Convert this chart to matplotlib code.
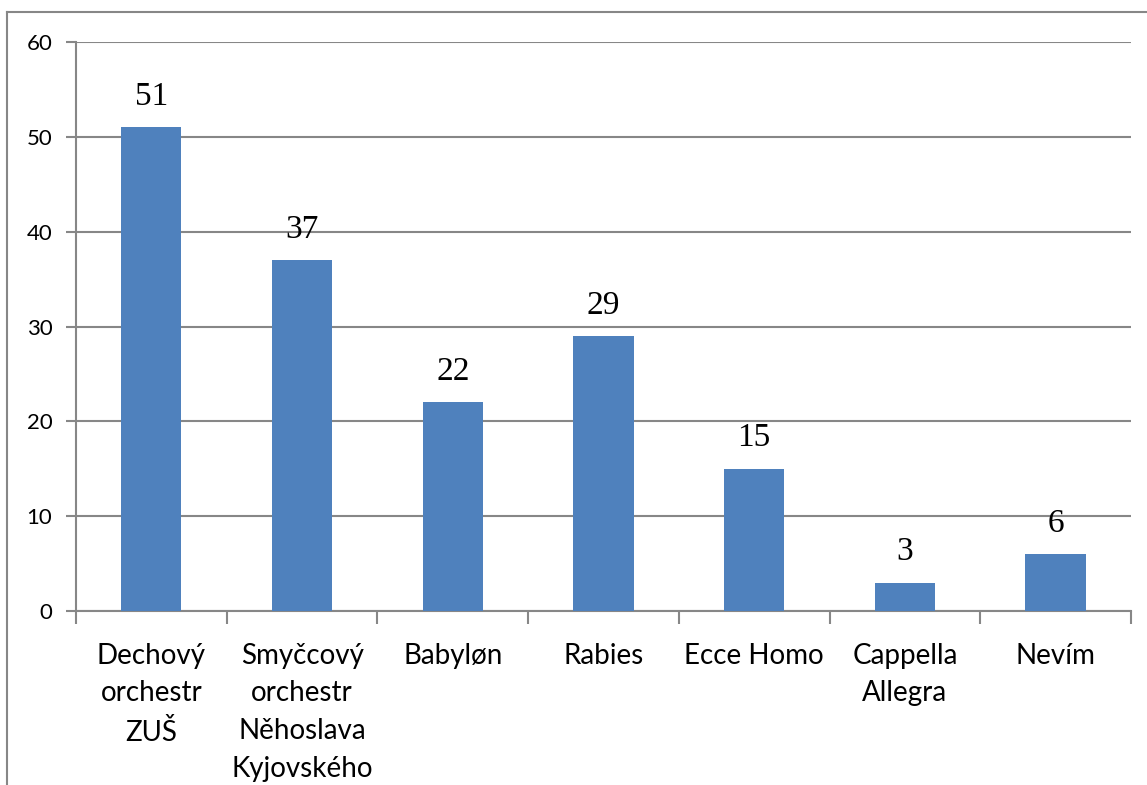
import matplotlib
matplotlib.use("Agg")
import matplotlib.pyplot as plt
from matplotlib.lines import Line2D
import numpy as np

# data
categories = ["Dechový\norchestr\nZUŠ", "Smyčcový\norchestr\nNěhoslava\nKyjovského",
              "Babyløn", "Rabies", "Ecce Homo", "Cappella\nAllegra", "Nevím"]
values = [51, 37, 22, 29, 15, 3, 6]
y_ticks = [0, 10, 20, 30, 40, 50, 60]

bar_color = "#4F81BD"
grid_color = "#878787"

fig = plt.figure(figsize=(11.47, 7.85), dpi=100)
ax = fig.add_axes([76 / 1147, 1 - 611 / 785, (1131 - 76) / 1147, (611 - 42) / 785])

x = np.arange(len(categories))
ax.bar(x, values, width=0.4, color=bar_color, zorder=3)

for xi, v in zip(x, values):
    ax.annotate(str(v), (xi, v), xytext=(0, 11), textcoords="offset points",
                ha="center", va="bottom", fontsize=24, family="Liberation Serif")

ax.set_xlim(-0.5, len(categories) - 0.5)
ax.set_ylim(0, 60)
ax.set_yticks(y_ticks)
ax.yaxis.grid(True, color=grid_color, linewidth=1.5, zorder=0)
ax.tick_params(axis="y", length=7, width=1.5, color=grid_color, labelsize=16, pad=10)

ax.set_xticks(x)
ax.set_xticklabels(categories, fontsize=20, family="Lato", linespacing=1.55)
ax.tick_params(axis="x", which="major", length=0, pad=23)
ax.set_xticks(np.arange(len(categories) + 1) - 0.5, minor=True)
ax.tick_params(axis="x", which="minor", length=9, width=1.5, color=grid_color)

for lbl in ax.get_yticklabels():
    lbl.set_family("Lato")

for side in ["top", "right"]:
    ax.spines[side].set_visible(False)
for side in ["left", "bottom"]:
    ax.spines[side].set_color(grid_color)
    ax.spines[side].set_linewidth(1.5)

# outer chart frame (cut off on the right and bottom)
fx = 7 / 1147
fy = 1 - 12 / 785
fig.add_artist(Line2D([fx, fx], [0, fy], color=grid_color, linewidth=1.5, transform=fig.transFigure))
fig.add_artist(Line2D([fx, 1], [fy, fy], color=grid_color, linewidth=1.5, transform=fig.transFigure))

fig.savefig("out.png", dpi=100)
